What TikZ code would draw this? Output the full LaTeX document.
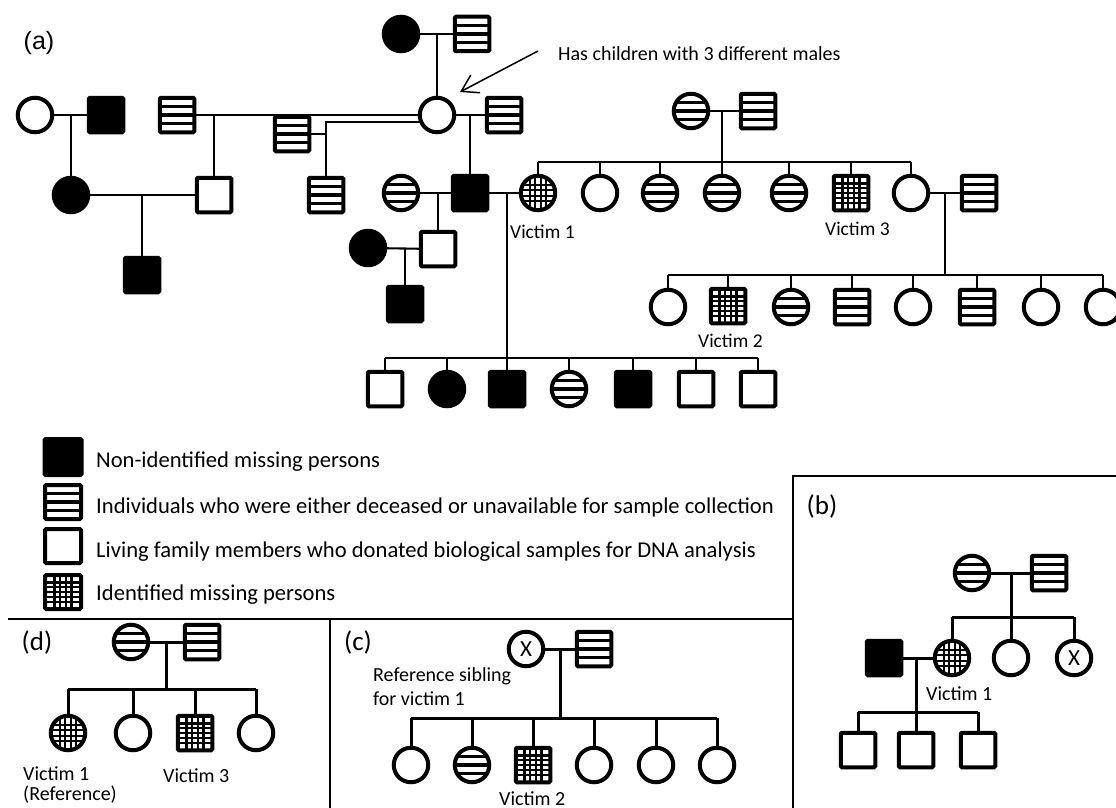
\documentclass[tikz,border=0pt]{standalone}
\usepackage{fontspec}
\setmainfont{Carlito}
\newfontfamily\arialfam{Liberation Sans}
\usetikzlibrary{arrows.meta,calc}
\newcommand\setfs[1]{\fontsize{#1}{#1}\selectfont}
\tikzset{
  ind/.style={draw, line width=4pt, inner sep=0pt, outer sep=0pt},
  fem/.style={ind, circle, minimum size=34.5pt},
  mal/.style={ind, rectangle, minimum size=34.5pt, rounded corners=1.2pt},
  blk/.style={fill=black},
  lined/.style={fill=white, path picture={
    \foreach \dy in {-8.3,0,8.3}{
      \draw[line width=3.2pt] ([yshift=\dy pt]path picture bounding box.west) -- ([yshift=\dy pt]path picture bounding box.east);}}},
  grid/.style={fill=white, path picture={
    \foreach \d in {-8.4,-2.8,2.8,8.4}{
      \draw[line width=2.4pt] ([shift={(\d pt,-16pt)}]path picture bounding box.center) -- ([shift={(\d pt,16pt)}]path picture bounding box.center);}
    \foreach \d in {-9.6,-4.8,0,4.8,9.6}{
      \draw[line width=2.2pt] ([shift={(-16pt,\d pt)}]path picture bounding box.center) -- ([shift={(16pt,\d pt)}]path picture bounding box.center);}}},
  cgrid/.style={fill=white, path picture={
    \foreach \d in {-8,-2.7,2.7,8}{
      \draw[line width=2.3pt] ([shift={(\d pt,-16pt)}]path picture bounding box.center) -- ([shift={(\d pt,16pt)}]path picture bounding box.center);
      \draw[line width=2.3pt] ([shift={(-16pt,\d pt)}]path picture bounding box.center) -- ([shift={(16pt,\d pt)}]path picture bounding box.center);}}},
  conn/.style={line width=2.1pt},
  connb/.style={line width=3pt},
  frame/.style={line width=1.4pt},
  lab/.style={inner sep=0pt, anchor=base west},
  xmark/.style={font=\setfs{23}},
}
\begin{document}
\begin{tikzpicture}[x=1pt,y=-1pt]
\useasboundingbox (0,0) rectangle (1116,808);
\fill[white] (0,0) rectangle (1116,808);
\clip (0,0) rectangle (1116,808);

% ---------------- panel (a)
\node[font=\arialfam\setfs{25}] (la) at (39,43) {(a)};
\node[fem,blk] (F0) at (401,34) {};
\node[mal,lined] (M0) at (472,34) {};
\node[fem] (A1) at (35,115) {};
\node[mal,blk] (A2) at (106,115) {};
\node[mal,lined] (A3) at (177,115) {};
\node[mal,lined] (A4) at (292,134) {};
\node[fem] (W) at (437,115) {};
\node[mal,lined] (A5) at (504,115) {};
\node[fem,lined] (B1) at (691,111) {};
\node[mal,lined] (B2) at (758,111) {};

\node[fem,blk] (C1) at (71,195) {};
\node[mal] (C2) at (214,195) {};
\node[mal,lined] (C3) at (326,195) {};
\node[fem,lined] (C4) at (401,193) {};
\node[mal,blk] (C5) at (470,193) {};
\node[fem,cgrid] (V1) at (538,193) {};
\node[fem] (S2) at (600,193) {};
\node[fem,lined] (S3) at (660,193) {};
\node[fem,lined] (S4) at (722,193) {};
\node[fem,lined] (S5) at (789,193) {};
\node[mal,grid] (V3) at (851,193) {};
\node[fem] (S7) at (911,193) {};
\node[mal,lined] (S8) at (979,193) {};

\node[fem,blk] (D1) at (368,248) {};
\node[mal] (D2) at (438,249) {};
\node[mal,blk] (E1) at (142,275) {};
\node[mal,blk] (E2) at (405,304) {};

\node[fem] (G1) at (668,307) {};
\node[mal,grid] (V2) at (728,306) {};
\node[fem,lined] (G3) at (791,307) {};
\node[mal,lined] (G4) at (852,307) {};
\node[fem] (G5) at (913,307) {};
\node[mal,lined] (G6) at (977,307) {};
\node[fem] (G7) at (1041,307) {};
\node[fem] (G8) at (1103,307) {};

\node[mal] (H1) at (385,389) {};
\node[fem,blk] (H2) at (447,389) {};
\node[mal,blk] (H3) at (507,389) {};
\node[fem,lined] (H4) at (569,389) {};
\node[mal,blk] (H5) at (633,389) {};
\node[mal] (H6) at (696,389) {};
\node[mal] (H7) at (758,389) {};

\node[lab, font=\setfs{20}] (note) at (558,60) {Has children with 3 different males};
\node[lab, font=\setfs{19.5}] (tv1) at (510,238) {Victim 1};
\node[lab, font=\setfs{19.5}] (tv3) at (825,235) {Victim 3};
\node[lab, font=\setfs{19.5}] (tv2) at (698,347) {Victim 2};

\coordinate (arS) at (538,51);
\coordinate (arE) at (460,92);
\draw[line width=1.5pt, -{Straight Barb[length=16pt,width=20pt,line width=1.5pt]}] (arS) -- (arE);

\draw[conn] (F0) -- (M0);
\draw[conn] (W) -- (W |- F0);
\draw[conn] (A1) -- (A2);
\draw[conn] (C1) -- (C1 |- A1);
\draw[conn] (A3) -- (W);
\draw[conn] (C2) -- (C2 |- A3);
\draw[conn] (W.205) -| (C3.north);
\draw[conn] (A4) -- (A4 -| C3);
\draw[conn] (W) -- (A5);
\draw[conn] (C5) -- (C5 |- W);
\draw[conn] (C1) -- (C2);
\draw[conn] (E1) -- (E1 |- C1);
\draw[conn] (C4) -- (C5);
\draw[conn] (D2) -- (D2 |- C4);
\draw[conn] (D1) -- (D2);
\draw[conn] (E2) -- (E2 |- D1);
\draw[conn] (C5) -- (V1);
\draw[conn] (H3) -- (H3 |- C5);
\coordinate (sb1) at (0,358);
\draw[conn] (H1.north |- sb1) -- (H7.north |- sb1);
\foreach \n in {H1,H2,H4,H5,H6,H7} \draw[conn] (\n.north) -- (\n.north |- sb1);
\draw[conn] (B1) -- (B2);
\draw[conn] (S4) -- (S4 |- B1);
\coordinate (sb2) at (0,162);
\draw[conn] (V1.north |- sb2) -- (S7.north |- sb2);
\foreach \n in {V1,S2,S3,S5,V3,S7} \draw[conn] (\n.north) -- (\n.north |- sb2);
\draw[conn] (S7) -- (S8);
\coordinate (m78) at ($(S7)!0.5!(S8)$);
\coordinate (sb3) at (0,275);
\draw[conn] (m78) -- (m78 |- sb3);
\draw[conn] (G1.north |- sb3) -- (G8.north |- sb3);
\foreach \n in {G1,V2,G3,G4,G5,G6,G7,G8} \draw[conn] (\n.north) -- (\n.north |- sb3);

% ---------------- legend
\node[mal,blk,minimum width=37pt,minimum height=36pt] (L1) at (63,457) {};
\node[mal,lined,minimum width=36pt,minimum height=34pt] (L2) at (63,502) {};
\node[mal,minimum width=36pt,minimum height=34pt] (L3) at (63,546) {};
\node[mal,grid,minimum width=36pt,minimum height=34pt] (L4) at (63,592) {};
\node[lab, font=\setfs{22.6}] (t1) at (96,467) {Non-identified missing persons};
\node[lab, font=\setfs{22.6}] (t2) at (96,513) {Individuals who were either deceased or unavailable for sample collection};
\node[lab, font=\setfs{22.6}] (t3) at (96,557) {Living family members who donated biological samples for DNA analysis};
\node[lab, font=\setfs{22.6}] (t4) at (96,600) {Identified missing persons};

% ---------------- frames
\draw[frame] (8,619) -- (793,619);
\draw[frame] (330,619) -- (330,808);
\draw[frame] (793,808) -- (793,476) -- (1116,476);

% ---------------- panel (b)
\node[font=\setfs{27}] (lb) at (822,506) {(b)};
\node[fem,lined] (bF) at (972,573) {};
\node[mal,lined] (bM) at (1049,573) {};
\node[mal,blk] (bH) at (884,658) {};
\node[fem,cgrid] (bV) at (952,658) {};
\node[fem] (bS2) at (1011,658) {};
\node[fem,xmark] (bS3) at (1074,658) {X};
\node[mal] (bK1) at (858,750) {};
\node[mal] (bK2) at (916,750) {};
\node[mal] (bK3) at (978,750) {};
\node[lab, font=\setfs{20}] (tbv) at (926,700) {Victim 1};
\draw[connb] (bF) -- (bM);
\draw[connb] (bS2) -- (bS2 |- bF);
\coordinate (sbb) at (0,617);
\draw[connb] (bV.north |- sbb) -- (bS3.north |- sbb);
\foreach \n in {bV,bS3} \draw[connb] (\n.north) -- (\n.north |- sbb);
\draw[connb] (bH) -- (bV);
\draw[connb] (bK2) -- (bK2 |- bH);
\coordinate (sbk) at (0,712);
\draw[connb] (bK1.north |- sbk) -- (bK3.north |- sbk);
\foreach \n in {bK1,bK3} \draw[connb] (\n.north) -- (\n.north |- sbk);

% ---------------- panel (c)
\node[font=\setfs{27}] (lc) at (358,642) {(c)};
\node[fem,xmark] (cF) at (526,649) {X};
\node[mal,lined] (cM) at (594,649) {};
\node[fem] (cK1) at (411,765) {};
\node[fem,lined] (cK2) at (472,765) {};
\node[mal,grid] (cK3) at (533,765) {};
\node[fem] (cK4) at (594,765) {};
\node[fem] (cK5) at (656,765) {};
\node[fem] (cK6) at (717,765) {};
\node[lab, font=\setfs{20}] (tcr1) at (373,681) {Reference sibling};
\node[lab, font=\setfs{20}] (tcr2) at (373,705) {for victim 1};
\node[lab, font=\setfs{20}] (tcv) at (499,805) {Victim 2};
\draw[connb] (cF) -- (cM);
\coordinate (cm) at ($(cF)!0.5!(cM)$);
\coordinate (sbc) at (0,718);
\draw[connb] (cm) -- (cm |- sbc);
\draw[connb] (cK1.north |- sbc) -- (cK6.north |- sbc);
\foreach \n in {cK1,cK2,cK3,cK4,cK5,cK6} \draw[connb] (\n.north) -- (\n.north |- sbc);

% ---------------- panel (d)
\node[font=\setfs{27}] (ld) at (37,642) {(d)};
\node[fem,lined] (dF) at (131,642) {};
\node[mal,lined] (dM) at (202,642) {};
\node[fem,cgrid] (dK1) at (68,733) {};
\node[fem] (dK2) at (133,733) {};
\node[mal,grid] (dK3) at (195,733) {};
\node[fem] (dK4) at (256,733) {};
\node[lab, font=\setfs{20}] (tdv1) at (23,780) {Victim 1};
\node[lab, font=\setfs{20}] (tdr) at (23,800) {(Reference)};
\node[lab, font=\setfs{20}] (tdv3) at (163,782) {Victim 3};
\draw[connb] (dF) -- (dM);
\coordinate (dm) at ($(dF)!0.5!(dM)$);
\coordinate (sbd) at (0,689);
\draw[connb] (dm) -- (dm |- sbd);
\draw[connb] (dK1.north |- sbd) -- (dK4.north |- sbd);
\foreach \n in {dK1,dK2,dK3,dK4} \draw[connb] (\n.north) -- (\n.north |- sbd);
\end{tikzpicture}
\end{document}
